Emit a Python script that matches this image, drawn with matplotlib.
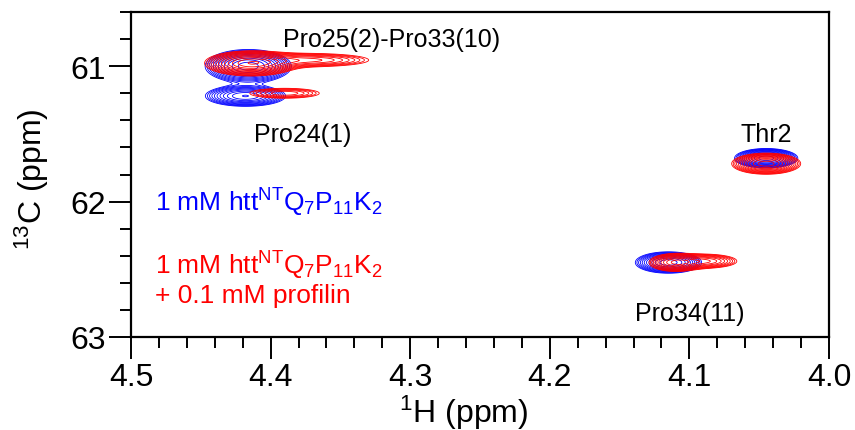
import numpy as np
import matplotlib
matplotlib.use("Agg")
import matplotlib.pyplot as plt
from matplotlib.ticker import MultipleLocator

plt.rcParams["font.family"] = ["Liberation Sans", "DejaVu Sans"]
plt.rcParams["mathtext.fontset"] = "custom"
plt.rcParams["mathtext.rm"] = "Liberation Sans"
plt.rcParams["mathtext.it"] = "Liberation Sans:italic"
plt.rcParams["mathtext.bf"] = "Liberation Sans:bold"

# ----------------------------
# Peak table (1H ppm, 13C ppm, 1H width, 13C width, height)
# ----------------------------

# free peptide
blue_h = [4.416, 4.418, 4.045, 4.115]
blue_c = [61.00, 61.22, 61.68, 62.45]
blue_wh = [0.015, 0.015, 0.011, 0.012]
blue_wc = [0.060, 0.040, 0.035, 0.040]
blue_amp = [1.0, 0.75, 1.0, 0.85]

# with profilin
red_h = [4.414, 4.372, 4.390, 4.045, 4.110, 4.088]
red_c = [60.98, 60.955, 61.20, 61.72, 62.45, 62.44]
red_wh = [0.016, 0.026, 0.017, 0.012, 0.010, 0.013]
red_wc = [0.045, 0.030, 0.025, 0.038, 0.035, 0.030]
red_amp = [1.0, 0.45, 0.35, 1.0, 0.7, 0.5]

labels = ["Pro25(2)-Pro33(10)", "Pro24(1)", "Thr2", "Pro34(11)"]
label_h = [4.313, 4.377, 4.045, 4.100]
label_c = [60.80, 61.50, 61.50, 62.82]


def spectrum(hh, cc, ph, pc, wh, wc, amp):
    z = np.zeros_like(hh)
    for h0, c0, sh, sc, a in zip(ph, pc, wh, wc, amp):
        z += a * np.exp(-0.5 * ((hh - h0) / sh) ** 2 - 0.5 * ((cc - c0) / sc) ** 2)
    return z


h = np.linspace(4.5, 4.0, 900)
c = np.linspace(60.6, 63.0, 600)
hh, cc = np.meshgrid(h, c)

z_blue = spectrum(hh, cc, blue_h, blue_c, blue_wh, blue_wc, blue_amp)
z_red = spectrum(hh, cc, red_h, red_c, red_wh, red_wc, red_amp)

levels = 0.12 * 1.2 ** np.arange(13)

# ----------------------------
# Plot
# ----------------------------

fig = plt.figure(figsize=(8.55, 4.31), dpi=100)
ax = fig.add_axes([0.1532, 0.2158, 0.8164, 0.7540])

ax.contour(hh, cc, z_blue, levels=levels, colors="blue", linewidths=0.6)
ax.contour(hh, cc, z_red, levels=levels, colors="red", linewidths=0.6)

ax.set_xlim(4.5, 4.0)
ax.set_ylim(63.0, 60.6)

ax.xaxis.set_major_locator(MultipleLocator(0.1))
ax.xaxis.set_minor_locator(MultipleLocator(0.02))
ax.yaxis.set_major_locator(MultipleLocator(1))
ax.yaxis.set_minor_locator(MultipleLocator(0.2))
ax.xaxis.set_major_formatter(plt.FormatStrFormatter("%.1f"))

ax.tick_params(which="major", direction="out", length=16, width=1.4,
               labelsize=23, pad=2)
ax.tick_params(which="minor", direction="out", length=8, width=1.4)
for s in ax.spines.values():
    s.set_linewidth(1.6)

ax.set_xlabel("$^{1}$H (ppm)", fontsize=23)
ax.set_ylabel("$^{13}$C (ppm)", fontsize=23)
ax.xaxis.set_label_coords(0.477, -0.17)
ax.yaxis.set_label_coords(-0.115, 0.49)

for t, x, y in zip(labels, label_h, label_c):
    ax.text(x, y, t, fontsize=18, ha="center", va="center")

ax.text(4.483, 62.0, "1 mM htt$^{\\mathrm{NT}}$Q$_{7}$P$_{11}$K$_{2}$",
        color="blue", fontsize=19, va="center")
ax.text(4.483, 62.47, "1 mM htt$^{\\mathrm{NT}}$Q$_{7}$P$_{11}$K$_{2}$",
        color="red", fontsize=19, va="center")
ax.text(4.483, 62.69, "+ 0.1 mM profilin", color="red", fontsize=19, va="center")

fig.savefig("out.png", dpi=100)
